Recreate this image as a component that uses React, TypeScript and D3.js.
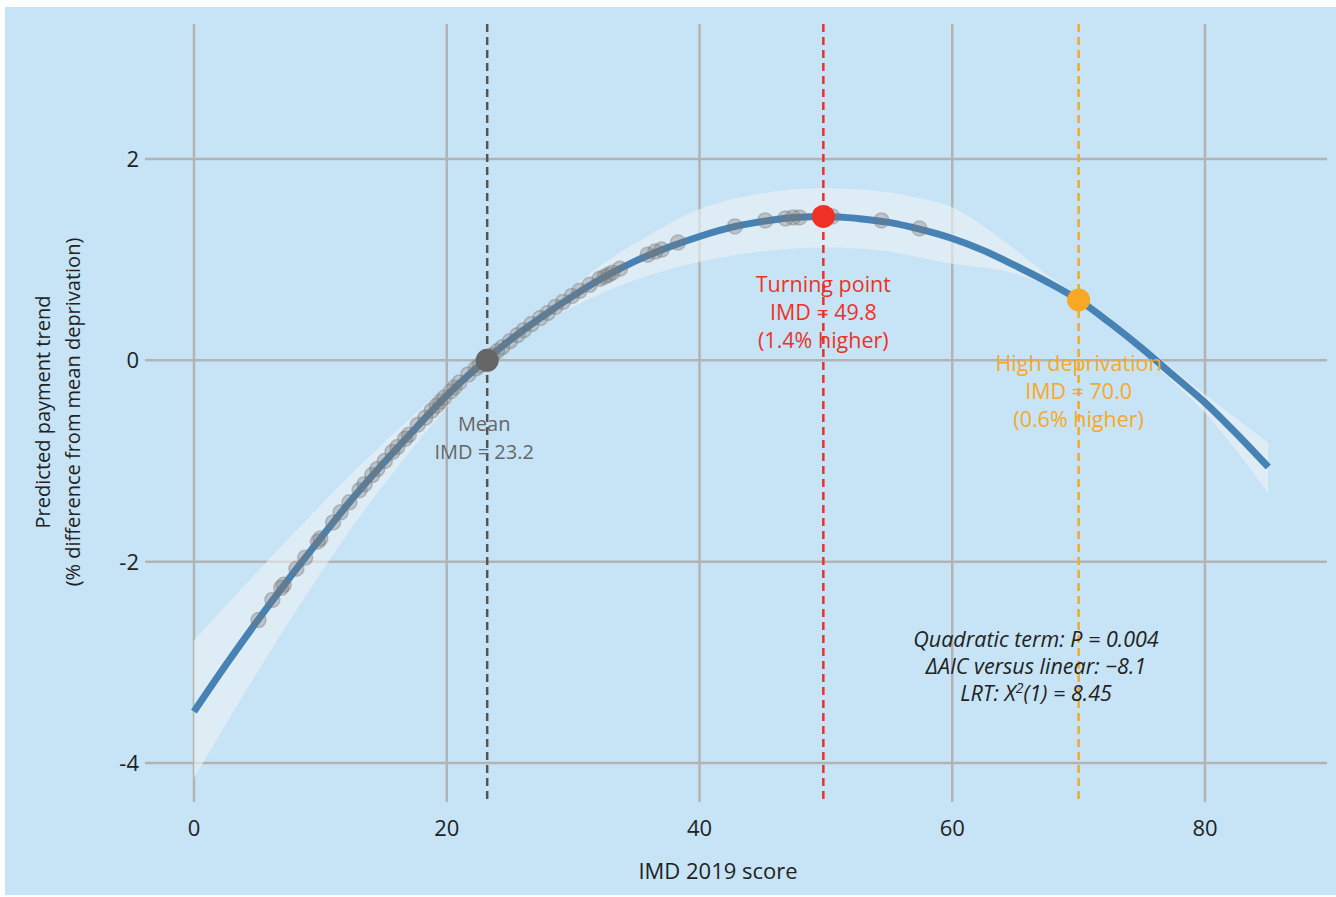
import React from 'react';
import * as d3 from 'd3';

// fitted curve
const curveX = [0, 2.5, 5, 7.5, 10, 12.5, 15, 17.5, 20, 22.5, 25, 27.5, 30, 32.5, 35, 37.5, 40, 42.5, 45, 47.5, 50, 52.5, 55, 57.5, 60, 62.5, 65, 67.5, 70, 72.5, 75, 77.5, 80, 82.5, 85];
const curveY = [-3.49, -3.03, -2.59, -2.17, -1.77, -1.38, -1.02, -0.68, -0.35, -0.06, 0.2, 0.43, 0.64, 0.83, 0.99, 1.12, 1.23, 1.32, 1.38, 1.42, 1.43, 1.41, 1.37, 1.3, 1.21, 1.09, 0.94, 0.78, 0.6, 0.37, 0.12, -0.15, -0.42, -0.73, -1.06];
const bandUpper = [-2.78, -2.44, -2.1, -1.77, -1.44, -1.12, -0.82, -0.53, -0.24, 0.02, 0.27, 0.51, 0.74, 0.97, 1.17, 1.35, 1.5, 1.6, 1.66, 1.7, 1.71, 1.7, 1.67, 1.61, 1.52, 1.33, 1.1, 0.85, 0.64, 0.41, 0.17, -0.09, -0.34, -0.58, -0.82];
const bandLower = [-4.15, -3.62, -3.1, -2.6, -2.12, -1.66, -1.24, -0.84, -0.47, -0.13, 0.13, 0.35, 0.53, 0.68, 0.8, 0.9, 0.98, 1.04, 1.08, 1.11, 1.12, 1.11, 1.08, 1.02, 0.96, 0.92, 0.86, 0.74, 0.56, 0.33, 0.07, -0.22, -0.52, -0.9, -1.32];

// observed areas
const ptX = [5.1, 6.2, 6.9, 7.1, 8.1, 8.8, 9.8, 10.0, 11.0, 11.6, 12.3, 13.1, 13.5, 14.1, 14.5, 15.1, 15.7, 16.1, 16.7, 17.0, 17.7, 18.3, 18.8, 19.2, 19.5, 19.8, 20.3, 20.6, 21.0, 21.7, 22.3, 22.6, 23.1, 23.6, 24.0, 24.4, 25.0, 25.6, 26.1, 26.7, 27.4, 28.0, 28.6, 29.2, 29.9, 30.5, 31.3, 32.1, 32.5, 32.8, 33.1, 33.7, 35.9, 36.5, 37.0, 38.3, 42.8, 45.2, 46.8, 47.4, 47.9, 50.5, 54.4, 57.4];
const ptY = [-2.58, -2.38, -2.26, -2.23, -2.07, -1.96, -1.8, -1.77, -1.61, -1.51, -1.41, -1.29, -1.23, -1.14, -1.08, -1.0, -0.91, -0.86, -0.78, -0.74, -0.64, -0.57, -0.5, -0.45, -0.41, -0.37, -0.31, -0.27, -0.22, -0.14, -0.08, -0.05, -0.01, 0.05, 0.09, 0.13, 0.19, 0.25, 0.3, 0.36, 0.42, 0.47, 0.53, 0.58, 0.64, 0.69, 0.75, 0.81, 0.83, 0.85, 0.87, 0.91, 1.05, 1.08, 1.1, 1.17, 1.33, 1.39, 1.41, 1.42, 1.42, 1.43, 1.39, 1.31];

const xTicks = [0, 20, 40, 60, 80];
const yTicks = [2, 0, -2, -4];

// highlighted points: mean, turning point, high deprivation
const markX = [23.2, 49.8, 70.0];
const markY = [0, 1.43, 0.6];
const markColor = ['#666666', '#ee3124', '#f9a825'];
const markLines = [
  ['Mean', 'IMD = 23.2'],
  ['Turning point', 'IMD = 49.8', '(1.4% higher)'],
  ['High deprivation', 'IMD = 70.0', '(0.6% higher)'],
];
// baseline offset of first label line below each marker (px)
const labelOffset = [71, 76, 71];

const statLines = ['Quadratic term: P = 0.004', '\u0394AIC versus linear: \u22128.1'];

const W = 1336;
const H = 897;
const font = "'Open Sans', 'Noto Sans', sans-serif";

export default function App() {
  const x = d3.scaleLinear().domain([0, 80]).range([194, 1205]);
  const y = d3.scaleLinear().domain([-4, 2]).range([763, 159]);

  const idx = d3.range(curveX.length);
  const area = d3.area<number>()
    .x(i => x(curveX[i]))
    .y0(i => y(bandLower[i]))
    .y1(i => y(bandUpper[i]))
    .curve(d3.curveMonotoneX);
  const line = d3.line<number>()
    .x(i => x(curveX[i]))
    .y(i => y(curveY[i]))
    .curve(d3.curveMonotoneX);

  const gridTop = 24, gridBottom = 802, gridLeft = 145, gridRight = 1327;

  return (
    <svg width={W} height={H} style={{ position: 'absolute', left: 0, top: 0 }} fontFamily={font}>
      <rect x={0} y={0} width={W} height={H} fill="#ffffff" />
      <rect x={5} y={7} width={W - 5} height={888} fill="#c6e4f6" />

      {/* grid */}
      {xTicks.map(t => (
        <line key={'gx' + t} x1={x(t)} x2={x(t)} y1={gridTop} y2={gridBottom} stroke="#b3b3b3" strokeWidth={2.5} />
      ))}
      {yTicks.map(t => (
        <line key={'gy' + t} x1={gridLeft} x2={gridRight} y1={y(t)} y2={y(t)} stroke="#b3b3b3" strokeWidth={2.5} />
      ))}

      {/* tick labels */}
      {xTicks.map(t => (
        <text key={'tx' + t} x={x(t)} y={836} textAnchor="middle" fontSize={22} fill="#222">{t}</text>
      ))}
      {yTicks.map(t => (
        <text key={'ty' + t} x={139} y={y(t) + 8} textAnchor="end" fontSize={22} fill="#222">{t}</text>
      ))}

      {/* axis titles */}
      <text x={718} y={879} textAnchor="middle" fontSize={22} fill="#222">IMD 2019 score</text>
      <g transform="translate(50,412) rotate(-90)">
        <text x={0} y={0} textAnchor="middle" fontSize={20} fill="#222">Predicted payment trend</text>
        <text x={0} y={30} textAnchor="middle" fontSize={20} fill="#222">(% difference from mean deprivation)</text>
      </g>

      {/* confidence band */}
      <path d={area(idx) ?? ''} fill="#eef0f3" fillOpacity={0.62} />

      {/* fitted curve */}
      <path d={line(idx) ?? ''} fill="none" stroke="#4682b4" strokeWidth={7} />

      {/* observed points */}
      {ptX.map((v, i) => (
        <circle key={'p' + i} cx={x(v)} cy={y(ptY[i])} r={7.5} fill="#777" fillOpacity={0.34}
          stroke="#777" strokeOpacity={0.38} strokeWidth={1.5} />
      ))}

      {/* reference lines + markers */}
      {markX.map((v, i) => (
        <g key={'m' + i}>
          <line x1={x(v)} x2={x(v)} y1={gridTop} y2={gridBottom} stroke={i === 0 ? '#555555' : markColor[i]}
            strokeWidth={2.5} strokeDasharray="8,5" />
          <circle cx={x(v)} cy={y(markY[i])} r={11.5} fill={markColor[i]} />
          {markLines[i].map((s, j) => (
            <text key={j} x={x(v) - (i === 0 ? 3 : 0)} y={y(markY[i]) + labelOffset[i] + j * 28}
              textAnchor="middle" fontSize={i === 0 ? 20 : 21.5} fill={markColor[i]}>{s}</text>
          ))}
        </g>
      ))}

      {/* test statistics */}
      <g fontStyle="italic" fontSize={21.5} fill="#222" textAnchor="middle">
        <text x={1036} y={647}>{statLines[0]}</text>
        <text x={1036} y={674}>{statLines[1]}</text>
        <text x={1036} y={701}>LRT: X<tspan fontSize={14} dy={-8}>2</tspan><tspan dy={8}>(1) = 8.45</tspan></text>
      </g>
    </svg>
  );
}
